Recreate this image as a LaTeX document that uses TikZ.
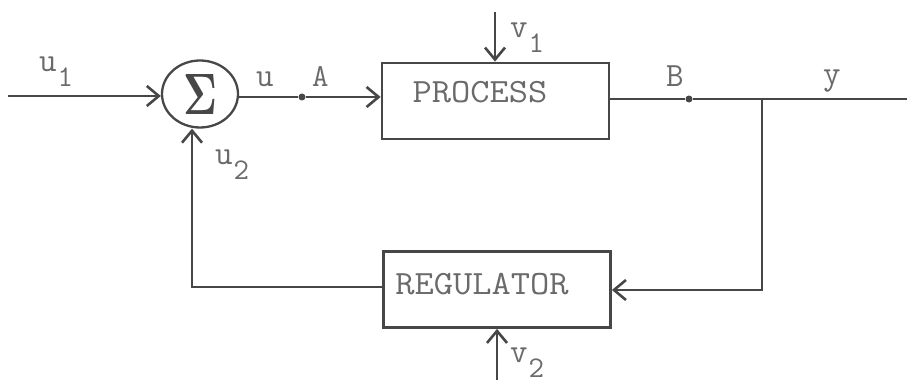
\documentclass[tikz,border=0pt]{standalone}
\usepackage{graphicx}
\usetikzlibrary{arrows.meta,shapes.geometric}
\definecolor{ink}{HTML}{474747}
\definecolor{txt}{HTML}{6a6a6a}
\newcommand{\sublab}[2]{#1\kern1pt\raisebox{-15pt}{\fontsize{30}{30}\selectfont #2}}
\begin{document}
\begin{tikzpicture}[x=1pt,y=-1pt,
  line/.style={draw=ink,line width=2.6pt},
  arr/.style={line,-{Straight Barb[length=12pt,width=20pt]}},
  blk/.style={draw=ink,line width=2.8pt,rectangle,minimum width=227pt,minimum height=76pt,inner sep=0pt},
  lbl/.style={inner sep=0pt,anchor=base west,text=txt,font=\fontsize{34}{34}\selectfont\ttfamily},
  txtc/.style={inner sep=0pt,anchor=center,text=txt,font=\fontsize{34}{34}\selectfont\ttfamily},
  dot/.style={circle,fill=ink,inner sep=0pt,minimum size=7pt}]
\useasboundingbox (0,0) rectangle (907,387);
% summing junction
\node[ellipse,draw=ink,line width=2.3pt,minimum width=76pt,minimum height=67pt,inner sep=0pt] (sum) at (200,94) {\textcolor{ink}{\resizebox{34pt}{40pt}{$\mathbf{\Sigma}$}}};
% blocks
\node[blk] (proc) at (495.5,101) {};
\node[blk] (reg) at (497,289.5) {};
\node[txtc] (ptext) at (480,92) {\scalebox{1.1}[1]{PROCESS}};
\node[txtc] (rtext) at (482,284) {\scalebox{1.1}[1]{REGULATOR}};
% points
\coordinate (in1) at (8,96);
\node[dot] (A) at (302,97) {};
\node[dot] (B) at (689,99) {};
\coordinate (br) at (762,99);
\coordinate (out) at (907,99);
\coordinate (brd) at (762,290);
\coordinate (fb) at (192,287);
\coordinate (v1) at (495,12);
\coordinate (v2) at (497,380);
% connectors
\draw[arr] (in1) -- (in1 -| sum.west);
\draw[line] (sum.east |- A) -- (A);
\draw[arr] (A) -- (A -| proc.west);
\draw[line] (proc.east |- B) -- (B) -- (br) -- (out);
\draw[arr] (br) -- (brd) -- (brd -| reg.east);
\draw[arr] (reg.west |- fb) -- (fb) -- (fb |- sum.south);
\draw[arr] (v1) -- (v1 |- proc.north);
\draw[arr] (v2) -- (v2 |- reg.south);
% labels
\node[lbl] (lu1) at (39,72) {\sublab{u}{1}};
\node[lbl] (lu) at (256,87) {u};
\node[lbl,font=\fontsize{32}{32}\selectfont\ttfamily] (lA) at (312,87) {A};
\node[lbl,font=\fontsize{34}{34}\selectfont\ttfamily] (lB) at (666,87) {B};
\node[lbl] (ly) at (823,85) {y};
\node[lbl] (lu2) at (215,165) {\sublab{u}{2}};
\node[lbl] (lv1) at (510,38) {\sublab{v}{1}};
\node[lbl] (lv2) at (510,362) {\sublab{v}{2}};
\end{tikzpicture}
\end{document}
